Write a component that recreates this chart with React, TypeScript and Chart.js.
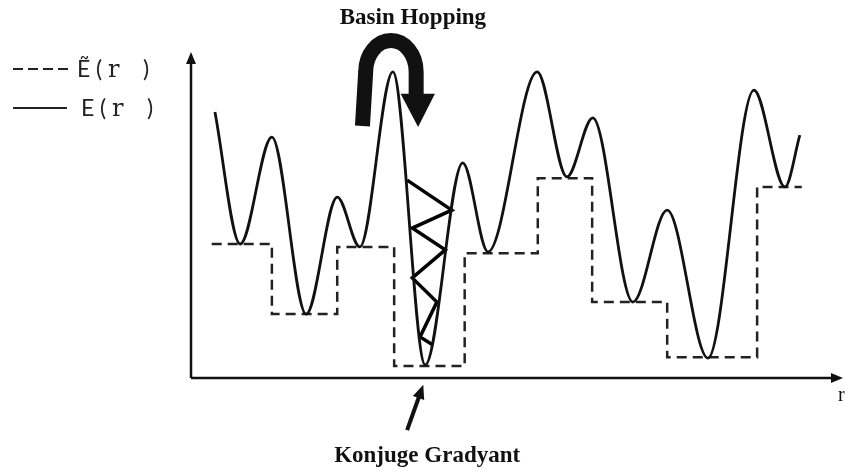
import React, { useEffect, useRef } from 'react';
import { Chart, registerables } from 'chart.js';

Chart.register(...registerables);

// E(r): local extrema of the energy landscape (r, E) in arbitrary units
const curveR = [3.7, 7.6, 12.5, 17.8, 22.6, 26.1, 31.2, 36.2, 42.0, 45.9, 53.5, 58.1, 62.1, 68.3, 73.6, 79.9, 87.0, 91.8, 94.1];
const curveE = [81.6, 41.1, 73.9, 19.6, 55.5, 40.2, 93.9, 4.0, 66.0, 38.7, 93.9, 61.7, 79.8, 23.3, 51.5, 6.1, 88.3, 58.6, 74.5];

// Ẽ(r): transformed (stepped) landscape, start of each plateau
const stepR = [3.2, 12.5, 22.6, 31.4, 42.3, 53.6, 62.0, 73.6, 87.5, 94.4];
const stepE = [41.1, 19.6, 40.2, 3.7, 38.3, 61.3, 23.3, 6.4, 58.6, 58.6];

// Conjugate-gradient zigzag inside the deep basin
const zigR = [33.4, 40.3, 34.2, 39.3, 34.2, 38.0, 35.4, 37.4];
const zigE = [60.7, 51.5, 46.0, 39.3, 30.7, 23.3, 12.6, 10.1];

const legendLabels = ['Ẽ', 'E'];
const topLabel = 'Basin Hopping';
const bottomLabel = 'Konjuge Gradyant';
const axisLabel = 'r';

const annotPlugin = {
  id: 'annot',
  afterDraw(chart: any) {
    const { ctx, chartArea: a, scales } = chart;
    const X = (v: number) => scales.x.getPixelForValue(v);
    const Y = (v: number) => scales.y.getPixelForValue(v);
    ctx.save();
    ctx.strokeStyle = '#111';
    ctx.fillStyle = '#111';
    ctx.setLineDash([]);

    // axes
    ctx.lineWidth = 2.5;
    ctx.beginPath();
    ctx.moveTo(a.left, a.bottom);
    ctx.lineTo(a.left, a.top + 10);
    ctx.moveTo(a.left, a.bottom);
    ctx.lineTo(a.right - 4, a.bottom);
    ctx.stroke();
    ctx.beginPath();
    ctx.moveTo(a.left, a.top);
    ctx.lineTo(a.left - 5, a.top + 12);
    ctx.lineTo(a.left + 5, a.top + 12);
    ctx.closePath();
    ctx.fill();
    ctx.beginPath();
    ctx.moveTo(a.right + 5, a.bottom);
    ctx.lineTo(a.right - 7, a.bottom - 5);
    ctx.lineTo(a.right - 7, a.bottom + 5);
    ctx.closePath();
    ctx.fill();

    // axis label r
    ctx.font = '20px "Liberation Serif"';
    ctx.textAlign = 'left';
    ctx.textBaseline = 'alphabetic';
    ctx.fillText(axisLabel, a.right, a.bottom + 23);

    // basin hopping curved arrow
    const cx = X(30.9), cy = Y(93.9);
    const rx = X(30.9 + 3.9) - cx;
    const ry = cy - Y(93.9 + 9.6);
    ctx.lineWidth = 15;
    ctx.lineCap = 'butt';
    ctx.beginPath();
    ctx.moveTo(X(26.5), Y(77.3));
    ctx.lineTo(cx - rx, cy);
    ctx.ellipse(cx, cy, rx, ry, 0, Math.PI, 2 * Math.PI);
    ctx.lineTo(X(34.8), Y(86.8));
    ctx.stroke();
    ctx.beginPath();
    ctx.moveTo(X(32.4), Y(87.2));
    ctx.lineTo(X(37.7), Y(87.2));
    ctx.lineTo(X(35.1), Y(77.0));
    ctx.closePath();
    ctx.fill();

    // small arrow pointing at the basin bottom
    const tx = X(35.9), ty = Y(-2.1), sx = X(33.4), sy = Y(-16.0);
    const ang = Math.atan2(ty - sy, tx - sx);
    ctx.lineWidth = 4;
    ctx.beginPath();
    ctx.moveTo(sx, sy);
    ctx.lineTo(tx - 10 * Math.cos(ang), ty - 10 * Math.sin(ang));
    ctx.stroke();
    ctx.beginPath();
    ctx.moveTo(tx, ty);
    ctx.lineTo(tx - 14 * Math.cos(ang) + 6 * Math.sin(ang), ty - 14 * Math.sin(ang) - 6 * Math.cos(ang));
    ctx.lineTo(tx - 14 * Math.cos(ang) - 6 * Math.sin(ang), ty - 14 * Math.sin(ang) + 6 * Math.cos(ang));
    ctx.closePath();
    ctx.fill();

    // labels
    ctx.font = 'bold 23px "Liberation Serif"';
    ctx.textAlign = 'center';
    ctx.fillText(topLabel, X(34.3), Y(108.6));
    ctx.fillText(bottomLabel, X(36.5), Y(-25.8));

    // legend
    ctx.strokeStyle = '#222';
    ctx.fillStyle = '#222';
    ctx.lineWidth = 2;
    ctx.setLineDash([10, 5]);
    ctx.beginPath();
    ctx.moveTo(13, 69);
    ctx.lineTo(73, 69);
    ctx.stroke();
    ctx.setLineDash([]);
    ctx.beginPath();
    ctx.moveTo(13, 108);
    ctx.lineTo(67, 108);
    ctx.stroke();
    ctx.textAlign = 'left';
    const rows = [{ x: 77, y: 77 }, { x: 81, y: 116 }];
    rows.forEach((r, i) => {
      ctx.font = '23px Lato';
      ctx.fillText(legendLabels[i], r.x, r.y);
      ctx.fillText('(', r.x + 19, r.y);
      ctx.fillText(')', r.x + 66, r.y);
      ctx.font = '24px "DejaVu Serif"';
      ctx.fillText('r', r.x + 31, r.y);
    });
    ctx.restore();
  },
};

export default function App() {
  const ref = useRef<HTMLCanvasElement>(null);
  useEffect(() => {
    if (!ref.current) return;
    const chart = new Chart(ref.current, {
      type: 'line',
      data: {
        datasets: [
          {
            label: 'E(r)',
            data: curveR.map((r, i) => ({ x: r, y: curveE[i] })),
            borderColor: '#111',
            borderWidth: 2.8,
            cubicInterpolationMode: 'monotone',
            pointRadius: 0,
            fill: false,
          },
          {
            label: 'Ẽ(r)',
            data: stepR.map((r, i) => ({ x: r, y: stepE[i] })),
            borderColor: '#222',
            borderWidth: 2.5,
            borderDash: [10, 6],
            stepped: true,
            pointRadius: 0,
            fill: false,
          },
          {
            label: 'CG',
            data: zigR.map((r, i) => ({ x: r, y: zigE[i] })),
            borderColor: '#000',
            borderWidth: 3.5,
            tension: 0,
            pointRadius: 0,
            fill: false,
          },
        ],
      },
      options: {
        responsive: false,
        animation: false,
        devicePixelRatio: 1,
        events: [],
        layout: { padding: { left: 191, right: 7, top: 52, bottom: 96 } },
        plugins: { legend: { display: false }, tooltip: { enabled: false }, title: { display: false } },
        scales: {
          x: { type: 'linear', min: 0, max: 100, display: false },
          y: { type: 'linear', min: 0, max: 100, display: false },
        },
      },
      plugins: [annotPlugin],
    } as any);
    return () => chart.destroy();
  }, []);
  return (
    <div style={{ position: 'fixed', left: 0, top: 0, width: 845, height: 474, background: '#fff' }}>
      <canvas ref={ref} width={845} height={474} style={{ display: 'block' }} />
    </div>
  );
}
